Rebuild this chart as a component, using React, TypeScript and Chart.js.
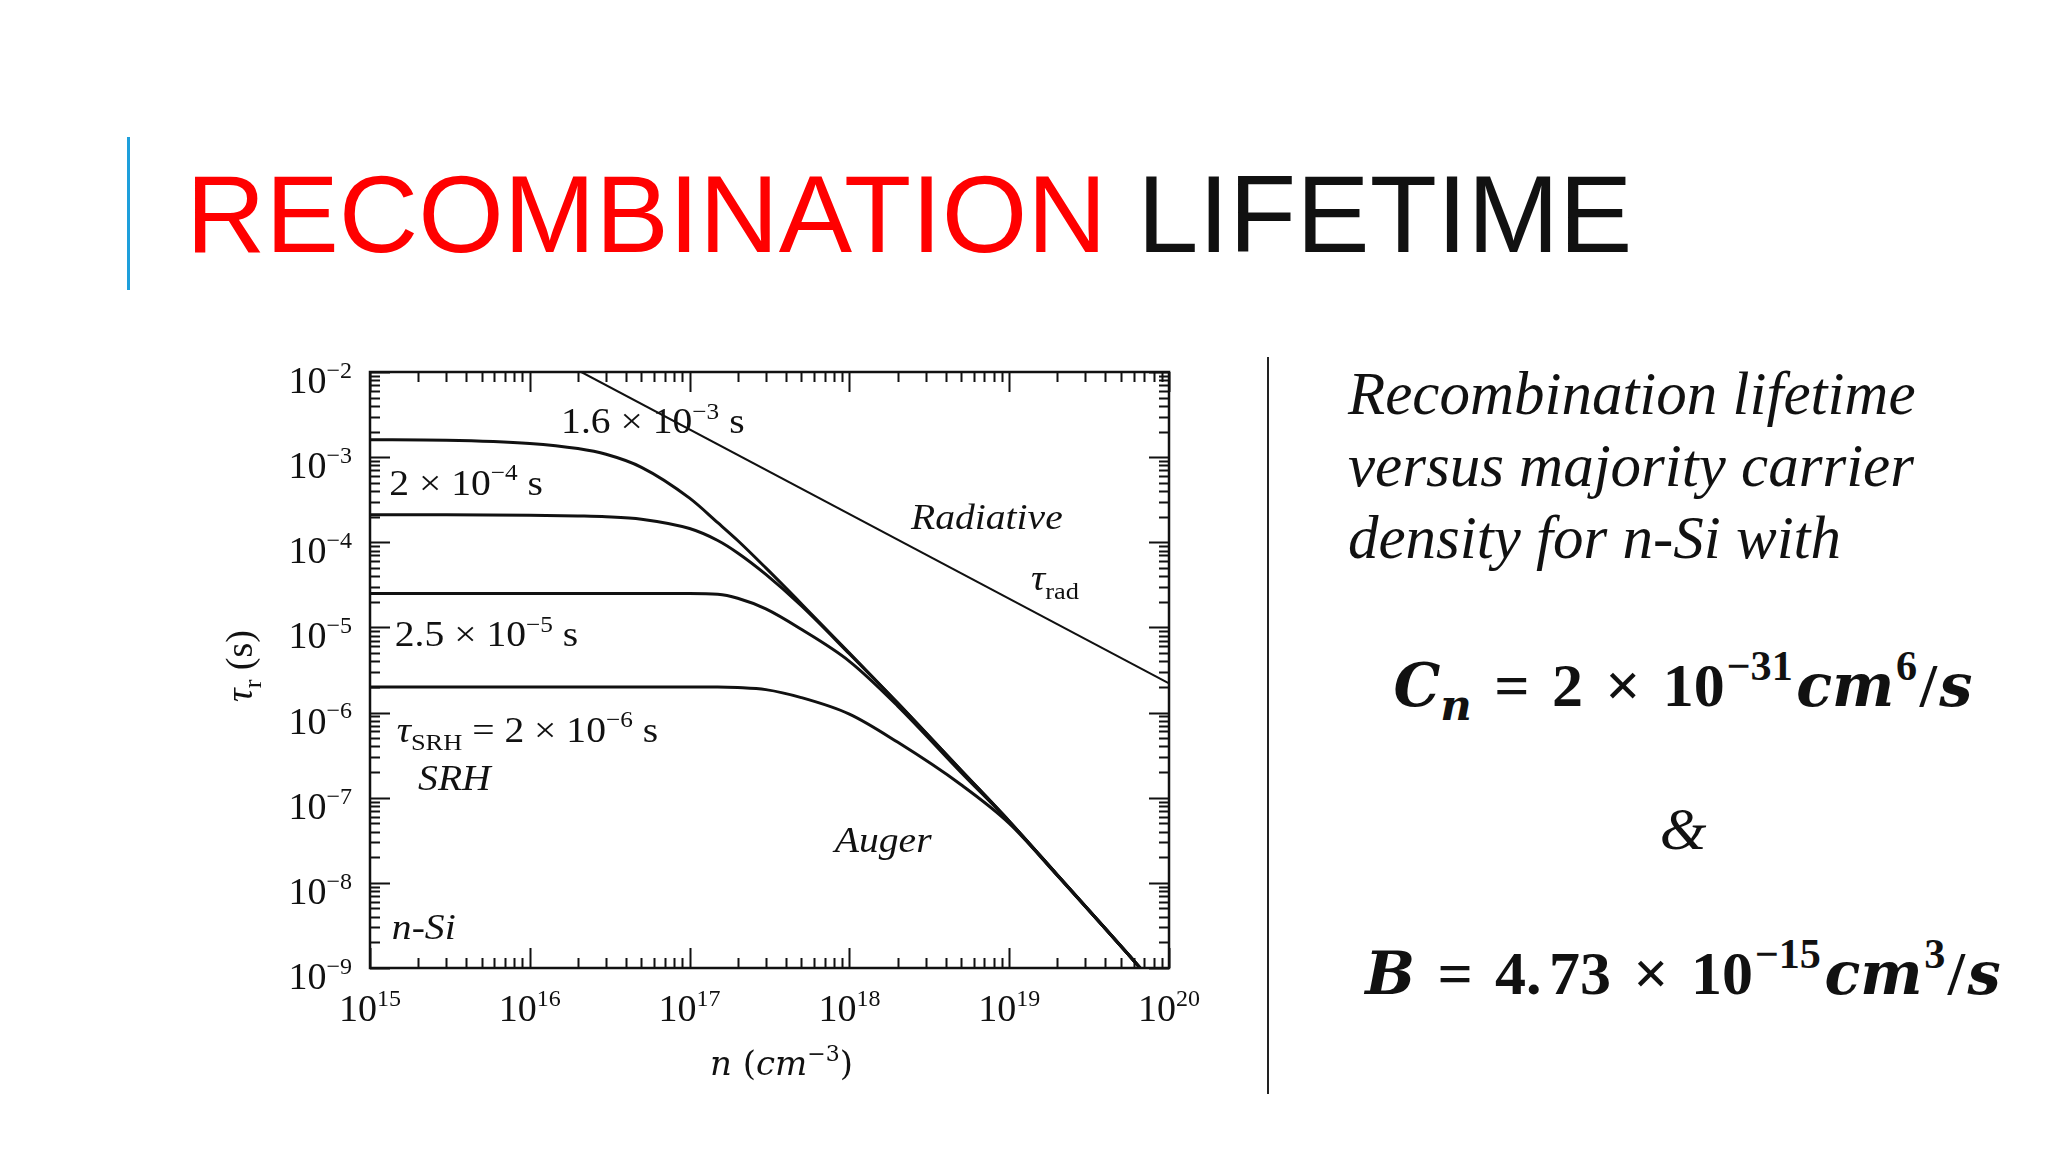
import React, { useEffect, useRef } from "react";
import { Chart, registerables } from "chart.js";

Chart.register(...registerables);

// ---- data ----
const carrierDensity = [1e15, 3e15, 1e16, 2e16, 3e16, 5e16, 1e17, 1.5e17, 2e17, 3e17, 5e17, 1e18, 2e18, 5e18, 1e19, 2e19, 4e19, 6.6e19];
const tauSRH16e4 = [1.6e-3, 1.58e-3, 1.45e-3, 1.26e-3, 1.08e-3, 7.6e-4, 3.3e-4, 1.7e-4, 1.05e-4, 5.0e-5, 1.9e-5, 5.0e-6, 1.3e-6, 2.1e-7, 5.3e-8, 1.24e-8, 2.9e-9, 1.0e-9];
const tauSRH2e4 = [2.1e-4, 2.1e-4, 2.08e-4, 2.04e-4, 2.0e-4, 1.87e-4, 1.45e-4, 1.05e-4, 7.5e-5, 4.2e-5, 1.8e-5, 4.9e-6, 1.3e-6, 2.1e-7, 5.3e-8, 1.24e-8, 2.9e-9, 1.0e-9];
const tauSRH25e5 = [2.5e-5, 2.5e-5, 2.5e-5, 2.5e-5, 2.5e-5, 2.5e-5, 2.5e-5, 2.45e-5, 2.2e-5, 1.65e-5, 9.5e-6, 4.0e-6, 1.2e-6, 1.98e-7, 5.25e-8, 1.24e-8, 2.9e-9, 1.0e-9];
const tauSRH2e6 = [2.0e-6, 2.0e-6, 2.0e-6, 2.0e-6, 2.0e-6, 2.0e-6, 2.0e-6, 2.0e-6, 1.97e-6, 1.86e-6, 1.5e-6, 9.6e-7, 4.5e-7, 1.42e-7, 5.0e-8, 1.22e-8, 2.9e-9, 1.0e-9];
const radiativeDensity = [2.1e16, 1e20];
const radiativeTau = [1.0e-2, 2.2e-6];

// decade exponents used for ticks / tick labels
const xDecades = [15, 16, 17, 18, 19, 20];
const yDecades = [-9, -8, -7, -6, -5, -4, -3, -2];

const isPow10 = (v: number) => {
  const e = Math.log10(v);
  return Math.abs(e - Math.round(e)) < 1e-6;
};

const buildTicks = (decades: number[]) => {
  const out: { value: number }[] = [];
  for (let i = 0; i < decades.length - 1; i++) {
    for (let m = 1; m <= 9; m++) out.push({ value: m * Math.pow(10, decades[i]) });
  }
  out.push({ value: Math.pow(10, decades[decades.length - 1]) });
  return out;
};

const expText = (v: number) => {
  const e = Math.round(Math.log10(v));
  return e < 0 ? "−" + String(-e) : String(e);
};

type Seg = { t: string; i?: boolean; pos?: "sup" | "sub"; fam?: string };

// text annotations inside the plot (anchored in data coordinates)
const plotNotes: { n: number; tau: number; segs: Seg[] }[] = [
  { n: 1.57e16, tau: 1.92e-3, segs: [{ t: "1.6 × 10" }, { t: "−3", pos: "sup" }, { t: " s" }] },
  { n: 1.32e15, tau: 3.63e-4, segs: [{ t: "2 × 10" }, { t: "−4", pos: "sup" }, { t: " s" }] },
  { n: 1.43e15, tau: 6.05e-6, segs: [{ t: "2.5 × 10" }, { t: "−5", pos: "sup" }, { t: " s" }] },
  { n: 1.47e15, tau: 4.55e-7, segs: [{ t: "τ", i: true }, { t: "SRH", pos: "sub" }, { t: " = 2 × 10" }, { t: "−6", pos: "sup" }, { t: " s" }] },
  { n: 2.0e15, tau: 1.23e-7, segs: [{ t: "SRH", i: true }] },
  { n: 1.37e15, tau: 2.2e-9, segs: [{ t: "n-Si", i: true }] },
  { n: 2.43e18, tau: 1.45e-4, segs: [{ t: "Radiative", i: true }] },
  { n: 1.37e19, tau: 2.75e-5, segs: [{ t: "τ", i: true }, { t: "rad", pos: "sub" }] },
  { n: 8.1e17, tau: 2.33e-8, segs: [{ t: "Auger", i: true }] },
];

const SERIF = '"Liberation Serif", "Times New Roman", serif';
const MATHVAR = '"DejaVu Serif", serif';

function segFont(s: Seg, size: number) {
  const k = s.pos === "sup" ? 0.64 : s.pos === "sub" ? 0.68 : 1;
  return `${s.i ? "italic " : ""}${Math.round(size * k)}px ${s.fam ?? SERIF}`;
}
function segDy(s: Seg, size: number) {
  return s.pos === "sup" ? -0.4 * size : s.pos === "sub" ? 0.24 * size : 0;
}
function richWidth(ctx: CanvasRenderingContext2D, segs: Seg[], size: number, sx = 1) {
  let w = 0;
  for (const s of segs) {
    ctx.font = segFont(s, size);
    w += ctx.measureText(s.t).width;
  }
  return w * sx;
}
function drawRich(ctx: CanvasRenderingContext2D, x: number, y: number, segs: Seg[], size: number, sx = 1) {
  ctx.save();
  ctx.translate(x, y);
  ctx.scale(sx, 1);
  let cx = 0;
  for (const s of segs) {
    ctx.font = segFont(s, size);
    ctx.fillText(s.t, cx, segDy(s, size));
    cx += ctx.measureText(s.t).width;
  }
  ctx.restore();
}

const framePlugin = {
  id: "frameAndNotes",
  afterDatasetsDraw(chart: any) {
    const ctx: CanvasRenderingContext2D = chart.ctx;
    const { left, right, top, bottom } = chart.chartArea;
    const xs = chart.scales.x;
    const ys = chart.scales.y;
    ctx.save();
    ctx.strokeStyle = "#111";
    ctx.fillStyle = "#111";
    ctx.lineWidth = 2;
    ctx.beginPath();
    for (const t of xs.ticks) {
      const px = Math.round(xs.getPixelForValue(t.value)) + 0.5;
      const len = isPow10(t.value) ? 20 : 10;
      ctx.moveTo(px, bottom);
      ctx.lineTo(px, bottom - len);
      ctx.moveTo(px, top);
      ctx.lineTo(px, top + len);
    }
    for (const t of ys.ticks) {
      const py = Math.round(ys.getPixelForValue(t.value)) + 0.5;
      const len = isPow10(t.value) ? 20 : 10;
      ctx.moveTo(left, py);
      ctx.lineTo(left + len, py);
      ctx.moveTo(right, py);
      ctx.lineTo(right - len, py);
    }
    ctx.stroke();
    ctx.lineWidth = 2.5;
    ctx.strokeRect(left, top, right - left, bottom - top);

    ctx.textAlign = "left";
    ctx.textBaseline = "alphabetic";

    // tick labels: 10 with superscript exponent
    const TL = 38;
    for (const t of xs.ticks) {
      if (!isPow10(t.value)) continue;
      const segs: Seg[] = [{ t: "10" }, { t: expText(t.value), pos: "sup" }];
      const w = richWidth(ctx, segs, TL);
      drawRich(ctx, xs.getPixelForValue(t.value) - w / 2, bottom + 53, segs, TL);
    }
    for (const t of ys.ticks) {
      if (!isPow10(t.value)) continue;
      const segs: Seg[] = [{ t: "10" }, { t: expText(t.value), pos: "sup" }];
      const w = richWidth(ctx, segs, TL);
      drawRich(ctx, left - 18 - w, ys.getPixelForValue(t.value) + 21, segs, TL);
    }

    // annotations
    for (const note of plotNotes) {
      drawRich(ctx, xs.getPixelForValue(note.n), ys.getPixelForValue(note.tau), note.segs, 36, 1.1);
    }

    // y axis title (rotated)
    const ySegs: Seg[] = [{ t: "τ", i: true }, { t: "r", pos: "sub" }, { t: " (s)" }];
    ctx.save();
    ctx.translate(left - 118, (top + bottom) / 2 - 4);
    ctx.rotate(-Math.PI / 2);
    const yw = richWidth(ctx, ySegs, 38);
    drawRich(ctx, -yw / 2, 0, ySegs, 38);
    ctx.restore();

    // x axis title
    const xSegs: Seg[] = [
      { t: "n", i: true, fam: MATHVAR }, { t: " (", fam: MATHVAR }, { t: "cm", i: true, fam: MATHVAR },
      { t: "−3", pos: "sup", fam: MATHVAR }, { t: ")", fam: MATHVAR },
    ];
    const xw = richWidth(ctx, xSegs, 34);
    drawRich(ctx, (left + right) / 2 + 12 - xw / 2, bottom + 107, xSegs, 34);
    ctx.restore();
  },
};

function RecombinationChart() {
  const ref = useRef<HTMLCanvasElement>(null);
  useEffect(() => {
    const curve = {
      borderColor: "#111",
      borderWidth: 3,
      pointRadius: 0,
      fill: false,
      cubicInterpolationMode: "monotone" as const,
    };
    const pts = (xs: number[], ys: number[]) => xs.map((x, i) => ({ x, y: ys[i] }));
    const chart = new Chart(ref.current as HTMLCanvasElement, {
      type: "line",
      data: {
        datasets: [
          { label: "τSRH = 1.6×10⁻³ s", data: pts(carrierDensity, tauSRH16e4), ...curve },
          { label: "τSRH = 2×10⁻⁴ s", data: pts(carrierDensity, tauSRH2e4), ...curve },
          { label: "τSRH = 2.5×10⁻⁵ s", data: pts(carrierDensity, tauSRH25e5), ...curve },
          { label: "τSRH = 2×10⁻⁶ s", data: pts(carrierDensity, tauSRH2e6), ...curve },
          { label: "Radiative", data: pts(radiativeDensity, radiativeTau), borderColor: "#111", borderWidth: 2, pointRadius: 0, fill: false, tension: 0 },
        ],
      },
      options: {
        animation: false,
        responsive: false,
        maintainAspectRatio: false,
        layout: { padding: { top: 32, right: 60, left: 0, bottom: 0 } },
        plugins: { legend: { display: false }, tooltip: { enabled: false } },
        scales: {
          x: {
            type: "logarithmic",
            min: 1e15,
            max: 1e20,
            grid: { display: false, drawTicks: false },
            border: { display: false },
            afterBuildTicks: (s: any) => { s.ticks = buildTicks(xDecades); },
            afterFit: (s: any) => { s.height = 142; },
            ticks: { display: false, autoSkip: false },
          },
          y: {
            type: "logarithmic",
            min: 1e-9,
            max: 1e-2,
            grid: { display: false, drawTicks: false },
            border: { display: false },
            afterBuildTicks: (s: any) => { s.ticks = buildTicks(yDecades); },
            afterFit: (s: any) => { s.width = 170; },
            ticks: { display: false, autoSkip: false },
          },
        },
      } as any,
      plugins: [framePlugin],
    });
    return () => chart.destroy();
  }, []);
  return (
    <canvas
      ref={ref}
      width={1029}
      height={770}
      style={{ position: "absolute", left: 200, top: 340, width: 1029, height: 770 }}
    />
  );
}

const v: React.CSSProperties = { fontFamily: MATHVAR, fontStyle: "italic", fontWeight: 700, fontSize: "0.95em" };
const supStyle: React.CSSProperties = { fontSize: "0.68em", verticalAlign: "0.62em", lineHeight: 0, marginLeft: "0.04em" };
const subStyle: React.CSSProperties = { ...v, fontSize: "0.7em", verticalAlign: "-0.32em", lineHeight: 0 };
const op: React.CSSProperties = { margin: "0 0.36em" };

export default function App() {
  return (
    <div style={{ position: "absolute", left: 0, top: 0, width: 2048, height: 1152, background: "#fff", overflow: "hidden" }}>
      <div style={{ position: "absolute", left: 127, top: 137, width: 3, height: 153, background: "#1e9fdb" }} />
      <div
        style={{
          position: "absolute", left: 186, top: 159, whiteSpace: "nowrap",
          font: '110px/110px "Liberation Sans", Arial, sans-serif',
        }}
      >
        <span style={{ color: "#ff0000" }}>RECOMBINATION</span> <span style={{ color: "#111" }}>LIFETIME</span>
      </div>

      <RecombinationChart />

      <div style={{ position: "absolute", left: 1267, top: 357, width: 2, height: 737, background: "#222" }} />

      <div
        style={{
          position: "absolute", left: 1348, top: 358, whiteSpace: "nowrap", color: "#111",
          font: `italic 61px/72px ${SERIF}`,
        }}
      >
        Recombination lifetime
        <br />
        versus majority carrier
        <br />
        density for n-Si with
      </div>

      <div
        style={{
          position: "absolute", left: 1300, width: 766, top: 649, textAlign: "center", whiteSpace: "nowrap",
          color: "#111", font: `bold 62px/72px ${SERIF}`,
        }}
      >
        <span style={v}>C</span><span style={subStyle}>n</span>
        <span style={op}>=</span>2<span style={op}>×</span>10<span style={supStyle}>−31</span>
        <span style={{ ...v, marginLeft: "0.06em" }}>cm</span><span style={supStyle}>6</span>
        <span style={{ margin: "0 0.04em" }}>/</span><span style={v}>s</span>
      </div>

      <div
        style={{
          position: "absolute", left: 1300, width: 766, top: 793, textAlign: "center",
          color: "#111", font: `italic 60px/72px ${SERIF}`,
        }}
      >
        &amp;
      </div>

      <div
        style={{
          position: "absolute", left: 1300, width: 766, top: 937, textAlign: "center", whiteSpace: "nowrap",
          color: "#111", font: `bold 62px/72px ${SERIF}`,
        }}
      >
        <span style={v}>B</span>
        <span style={op}>=</span>4.<span style={{ marginLeft: "0.12em" }}>73</span><span style={op}>×</span>10<span style={supStyle}>−15</span>
        <span style={{ ...v, marginLeft: "0.06em" }}>cm</span><span style={supStyle}>3</span>
        <span style={{ margin: "0 0.04em" }}>/</span><span style={v}>s</span>
      </div>
    </div>
  );
}
